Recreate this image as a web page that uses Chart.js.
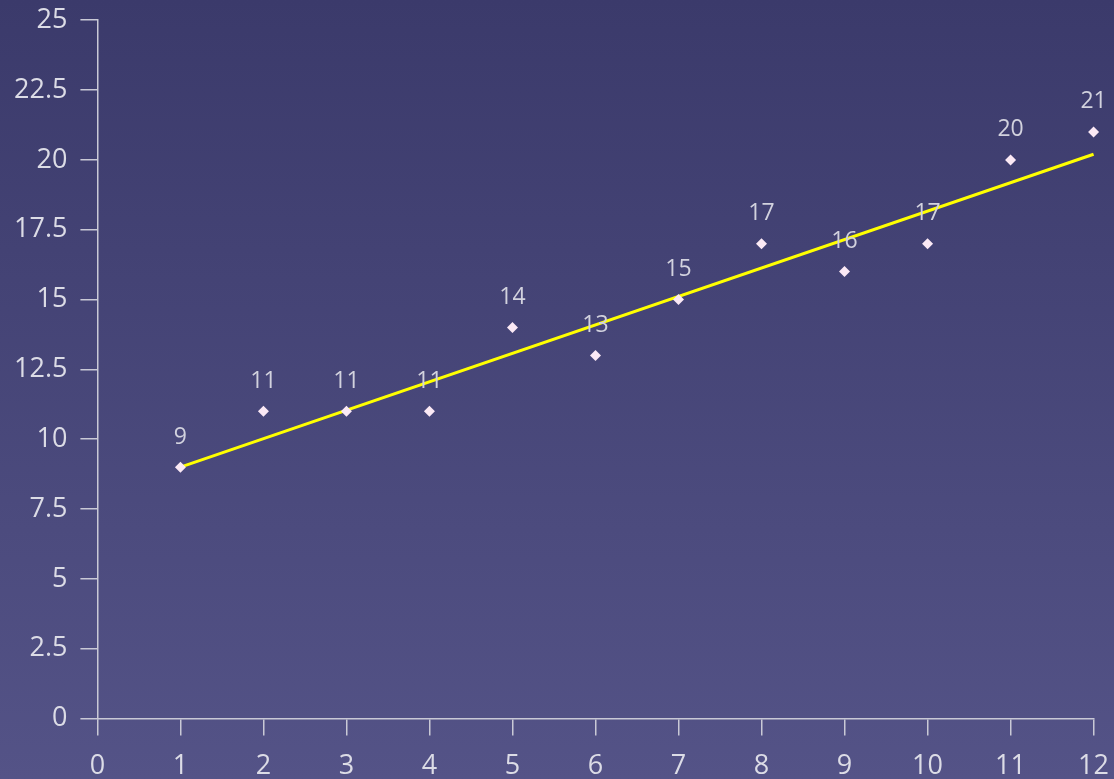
<!DOCTYPE html>
<html>
<head>
<meta charset="utf-8">
<script src="https://cdn.jsdelivr.net/npm/chart.js@4/dist/chart.umd.min.js"></script>
<style>
    html, body {
        margin: 0;
        padding: 0;
        width: 1114px;
        height: 779px;
        overflow: hidden;
        background: linear-gradient(to bottom, #3b3a6b 0%, #545387 100%);
    }
    #wrap {
        position: absolute;
        left: 0;
        top: -9px;
        width: 1124px;
        height: 807px;
    }
</style>
</head>
<body>
<div id="wrap"><canvas id="trendChart"></canvas></div>
<script>
// Observations
const xValues = [1, 2, 3, 4, 5, 6, 7, 8, 9, 10, 11, 12];
const yValues = [9, 11, 11, 11, 14, 13, 15, 17, 16, 17, 20, 21];

// Linear trend line end points
const trendX = [1, 12];
const trendY = [9.0, 20.2];

const axisColor = '#c9c9d6';
const textColor = '#dcdce6';
const fontFamily = '"Open Sans", "Noto Sans", sans-serif';

// Value labels above each point
const pointLabels = {
    id: 'pointLabels',
    afterDatasetsDraw(chart) {
        const ctx = chart.ctx;
        const meta = chart.getDatasetMeta(0);
        ctx.save();
        ctx.fillStyle = '#d2d2de';
        ctx.font = '23px ' + fontFamily;
        ctx.textAlign = 'center';
        ctx.textBaseline = 'middle';
        meta.data.forEach((pt, i) => {
            ctx.fillText(String(yValues[i]), pt.x, pt.y - 30);
        });
        ctx.restore();
    }
};

function initializeChart() {
    new Chart(document.getElementById('trendChart'), {
        type: 'scatter',
        data: {
            datasets: [{
                label: 'Values',
                data: xValues.map((x, i) => ({ x: x, y: yValues[i] })),
                pointStyle: 'rectRot',
                pointRadius: 5.5,
                pointBackgroundColor: '#fbe9f5',
                pointBorderWidth: 0,
                clip: false,
                order: 0
            }, {
                label: 'Trend',
                data: trendX.map((x, i) => ({ x: x, y: trendY[i] })),
                showLine: true,
                borderColor: '#ffff00',
                borderWidth: 3,
                pointRadius: 0,
                clip: false,
                order: 1
            }]
        },
        options: {
            responsive: true,
            maintainAspectRatio: false,
            animation: false,
            layout: {
                padding: { top: 3, right: 1, bottom: 0, left: 1 }
            },
            plugins: {
                legend: { display: false },
                tooltip: { enabled: false }
            },
            scales: {
                x: {
                    type: 'linear',
                    min: 0,
                    max: 12,
                    border: { color: axisColor, width: 1.5 },
                    grid: {
                        drawOnChartArea: false,
                        color: axisColor,
                        lineWidth: 1.5,
                        tickLength: 17
                    },
                    ticks: {
                        stepSize: 1,
                        color: textColor,
                        padding: 15,
                        font: { family: fontFamily, size: 27 }
                    }
                },
                y: {
                    min: 0,
                    max: 25,
                    border: { color: axisColor, width: 1.5 },
                    grid: {
                        drawOnChartArea: false,
                        color: axisColor,
                        lineWidth: 1.5,
                        tickLength: 17
                    },
                    ticks: {
                        stepSize: 2.5,
                        color: textColor,
                        padding: 13,
                        font: { family: fontFamily, size: 27 }
                    }
                }
            }
        },
        plugins: [pointLabels]
    });
}

window.addEventListener('load', initializeChart);
</script>
</body>
</html>
